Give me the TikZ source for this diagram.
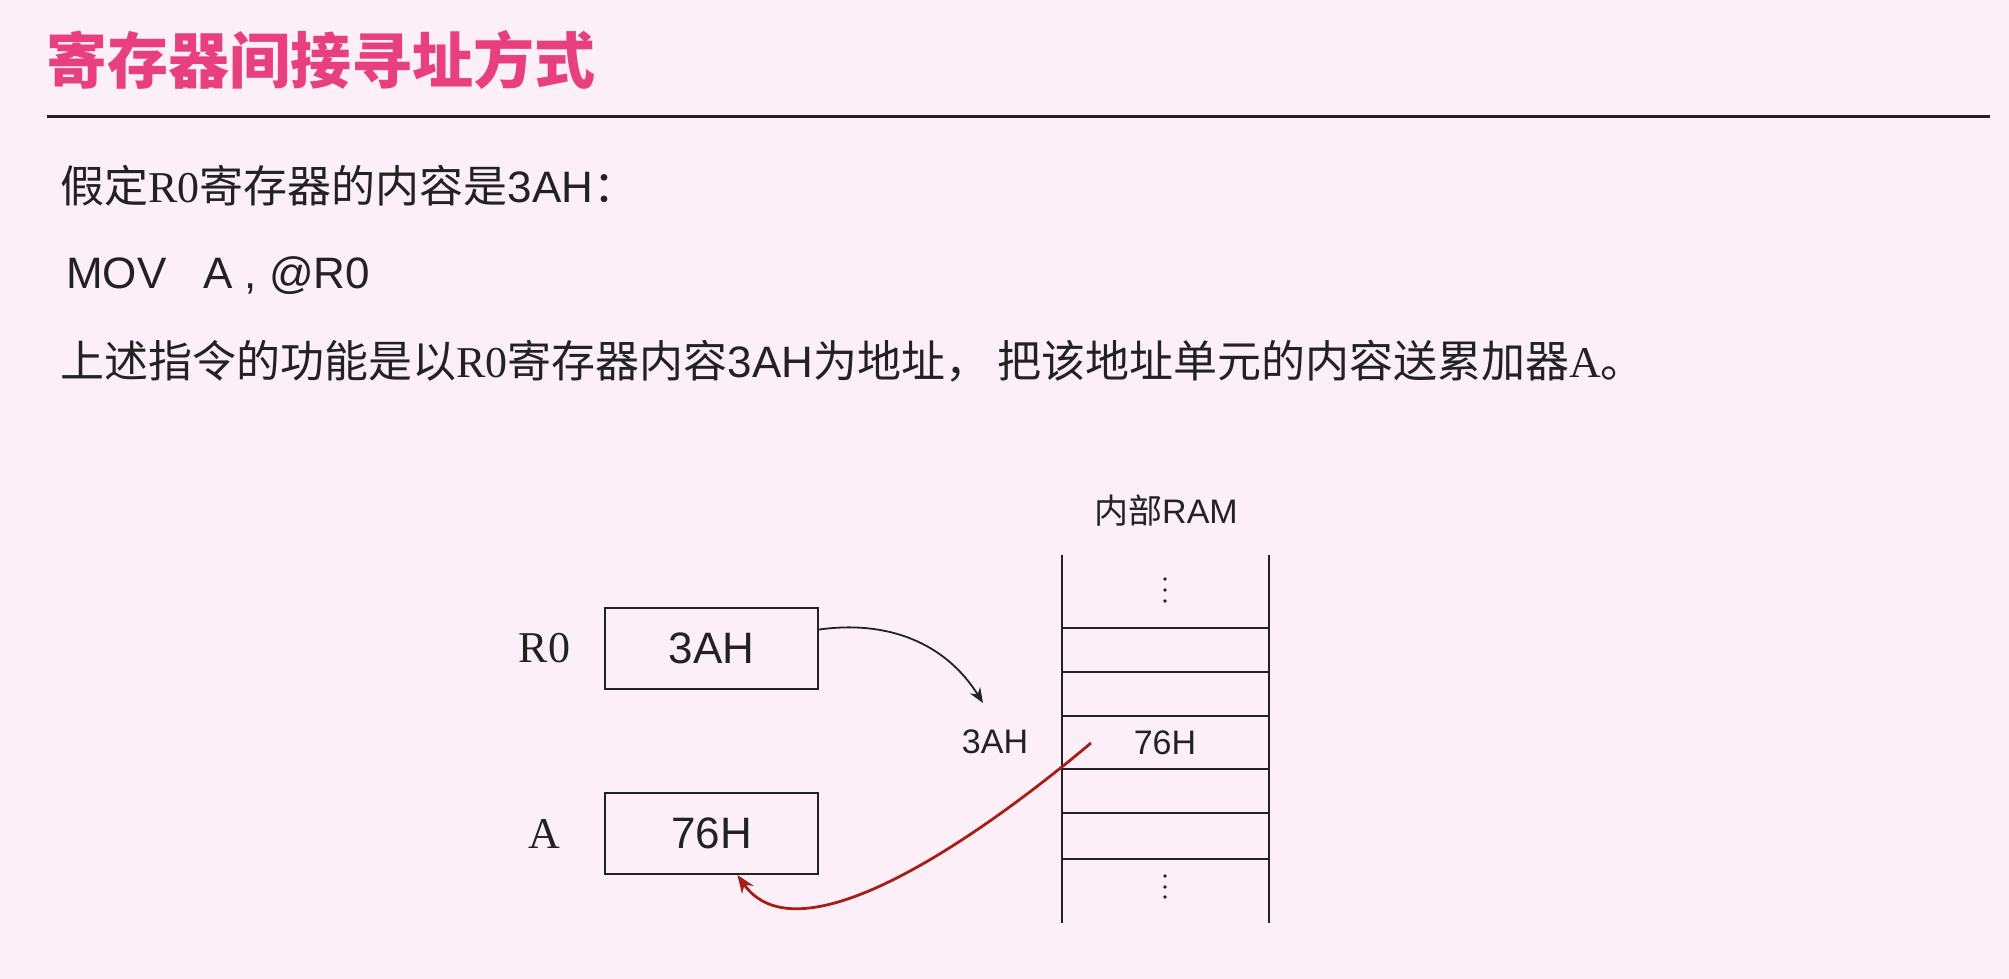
\documentclass[tikz,border=0pt]{standalone}
\usepackage{fontspec}
\setmainfont{Liberation Serif}
\newfontfamily\hv{Liberation Sans}
\newfontfamily\cjk{Noto Sans CJK SC}
\usetikzlibrary{arrows.meta}
\definecolor{bg}{RGB}{252,239,248}
\definecolor{pk}{RGB}{232,64,126}
\definecolor{rd}{RGB}{166,30,20}
\definecolor{ink}{RGB}{34,34,34}
\newcommand{\zh}[1]{{\cjk #1}}
\newcommand{\en}[1]{{\hv #1}}
\tikzset{
    para/.style =   {anchor=base west,
                    inner sep=0pt,
                    text=ink,
                    font=\fontsize{44}{52}\selectfont},
    box/.style =    {rectangle,
                    draw=ink,
                    text=ink,
                    line width=2pt,
                    minimum width=213pt,
                    minimum height=81pt,
                    font=\hv\fontsize{44}{52}\selectfont},
    reg/.style =    {text=ink,
                    font=\fontsize{44}{52}\selectfont},
    ramtext/.style ={text=ink,
                    font=\hv\fontsize{34}{40}\selectfont},
    cell/.style =   {draw=ink,
                    line width=2pt},
    -,
    >={Stealth[length=15pt,width=12pt]},
    node distance=167pt}
\begin{document}
\begin{tikzpicture}[x=1pt,y=-1pt]
                \useasboundingbox (0,0) rectangle (2009,979);
                \fill[bg] (0,0) rectangle (2009,979);
                \node[para, text=pk, font=\cjk\bfseries\fontsize{61}{70}\selectfont] (T) at (46,84) {寄存器间接寻址方式};
                \draw[line width=3pt, ink] (47,117) -- (1990,117);
                \node[para] (P) at (60,202) {\zh{假定}R0\zh{寄存器的内容是}\en{3AH}\zh{：}};
                \node[para] (Q) at (66,288) {\en{MOV\ \ \ A , @R0}};
                \node[para] (S) at (60,377) {\zh{上述指令的功能是以}R0\zh{寄存器内容}\en{3AH}\zh{为地址，}\hspace{8pt}\zh{把该地址单元的内容送累加器}A\zh{。}};
                % registers
                \node[box]          (B) at (711.5,648.5)    {3AH};
                \node[box]          (C) [below of=B, node distance=185pt] {76H};
                \node[reg]          (R) [left of=B]         {R0};
                \node[reg]          (D) [left of=C]         {A};
                % internal RAM
                \node[ramtext]      (M) at (1166,511)       {\zh{内部}RAM};
                \node[ramtext]      (N) at (1165,743)       {76H};
                \node[ramtext]      (K) at (995,742)        {3AH};
                \draw[cell] (1062,555) -- (1062,923) (1269,555) -- (1269,923);
                \foreach \y in {628,672,716,769,813,859}
                    \draw[cell] (1062,\y) -- (1269,\y);
                \foreach \y in {579,590,601,876,887,897}
                    \fill[ink] (1165,\y) circle (1.8pt);
                \coordinate (E) at (983,703);
                \coordinate (F) at (1091,743);
                \path [->, line width=1.8pt, ink] (B.10) edge [out=8, in=122] (E);
                \path [-{Stealth[length=18pt,width=14pt]}, line width=2.8pt, rd] (F) edge [out=220, in=-55, out looseness=1.1, in looseness=0.7] (C.-58);
\end{tikzpicture}
\end{document}
